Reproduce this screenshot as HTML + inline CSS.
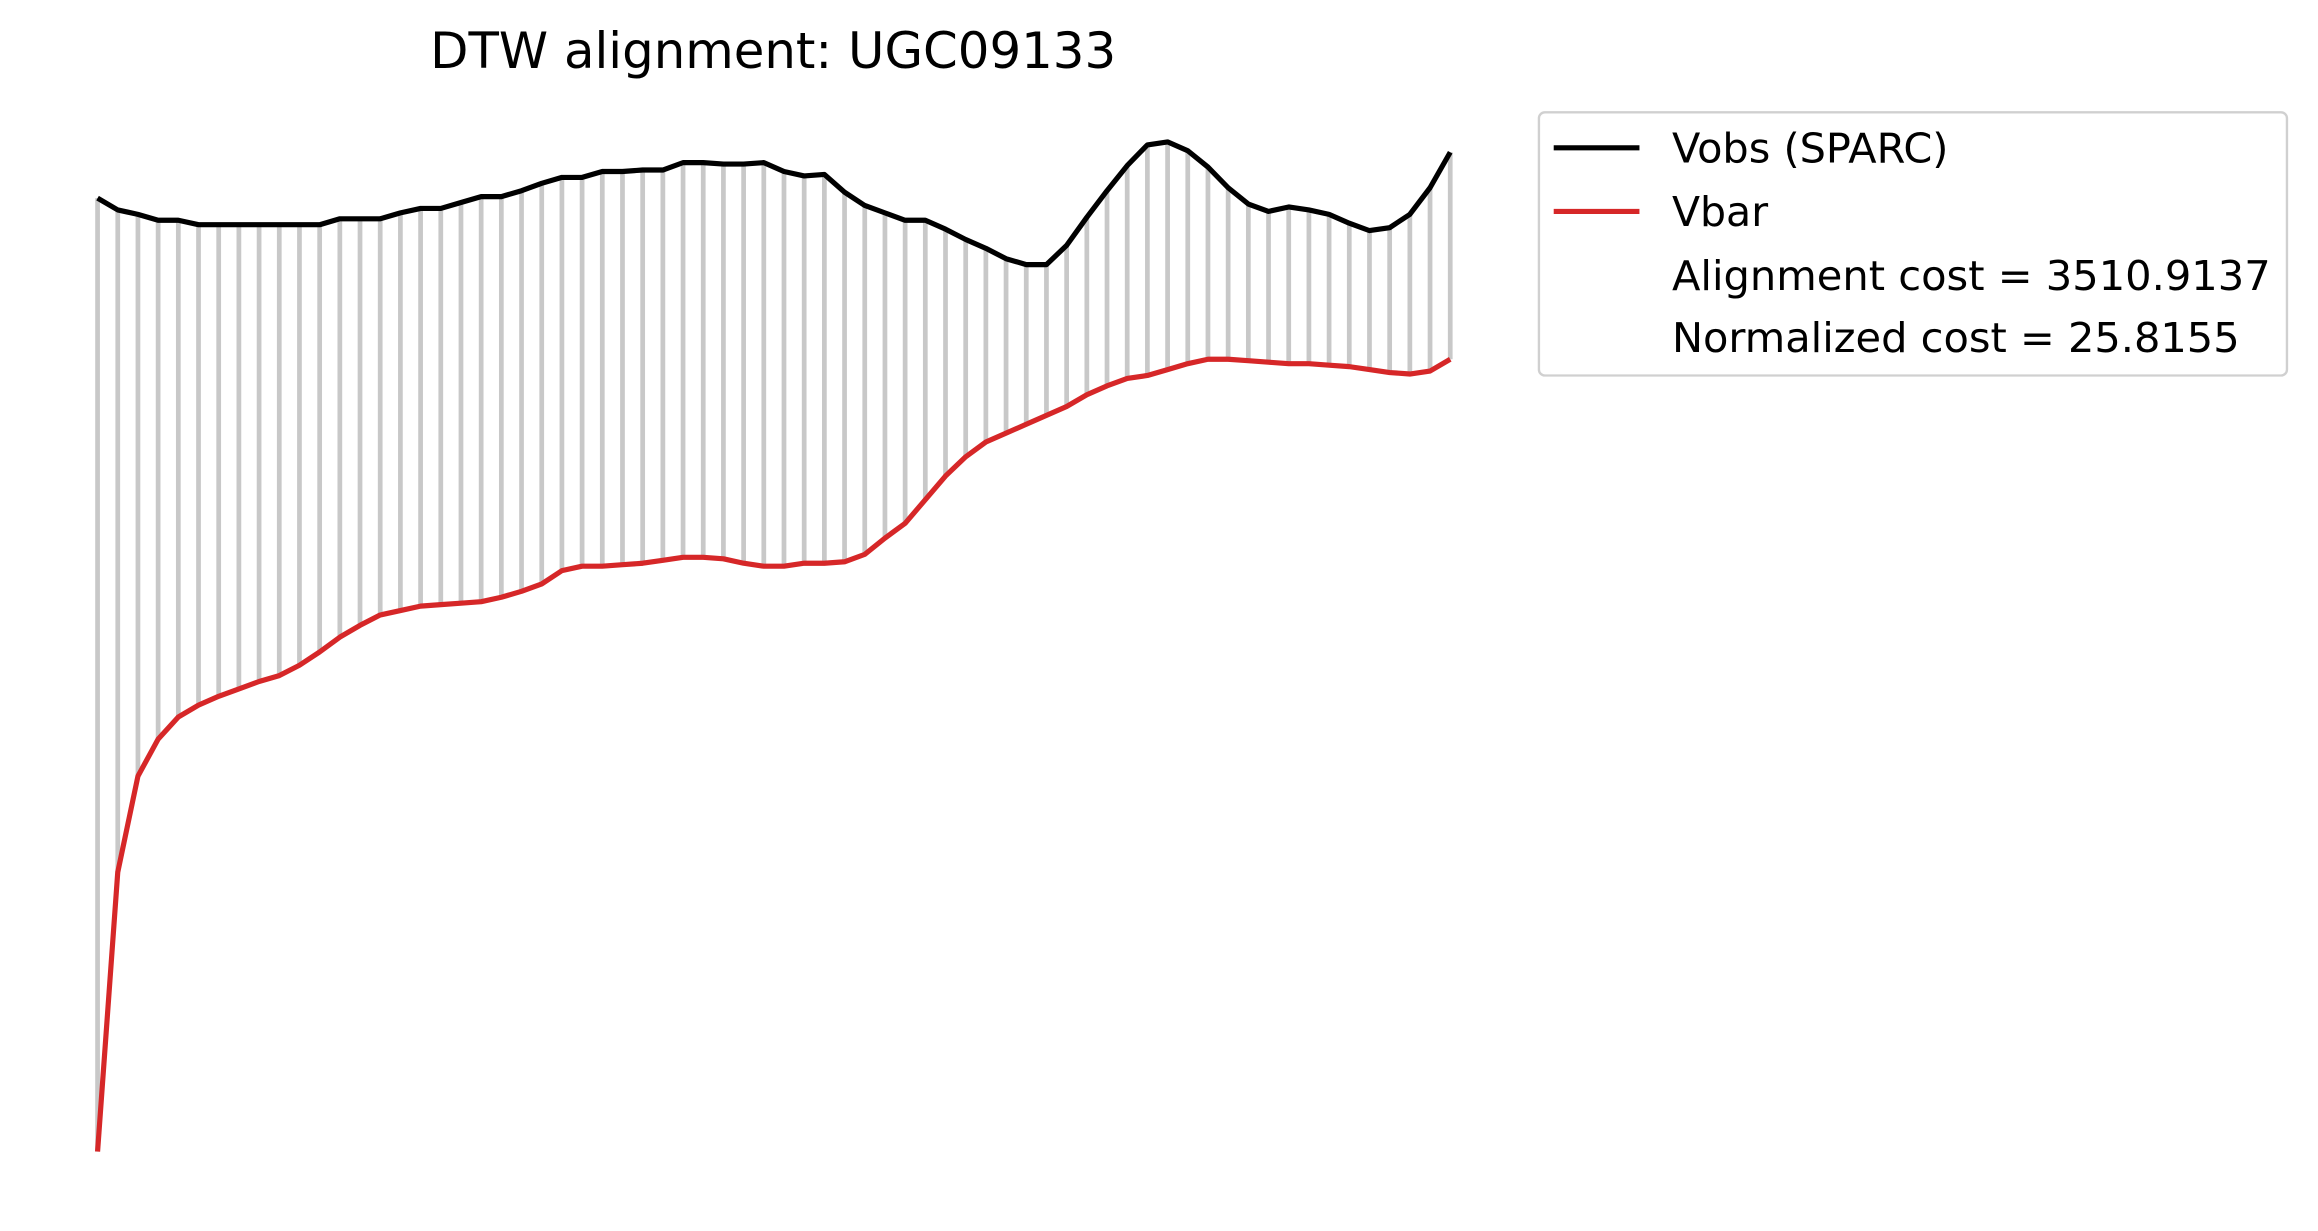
<!DOCTYPE html>
<html><head><meta charset="utf-8"><style>
html,body{margin:0;padding:0;background:#fff;}
svg{display:block;}
text{font-family:"DejaVu Sans","Liberation Sans",sans-serif;fill:#000;}
</style></head><body>
<svg id="chart" width="2318" height="1231" viewBox="0 0 1568 832.7" xmlns="http://www.w3.org/2000/svg">
<rect width="1568" height="833" fill="#fff"/>
<text x="523" y="46" font-size="33.5" text-anchor="middle" textLength="464" lengthAdjust="spacingAndGlyphs">DTW alignment: UGC09133</text>
<g id="links"></g>
<g id="series"></g>
<g>
<rect x="1041" y="76" width="506" height="178" rx="4" fill="#fff" stroke="#d0d0d0" stroke-width="1.6"/>
<line x1="1051" y1="100" x2="1109" y2="100" stroke="#000" stroke-width="3.5"/>
<text x="1131" y="110" font-size="28" textLength="187" lengthAdjust="spacingAndGlyphs">Vobs (SPARC)</text>
<line x1="1051" y1="143" x2="1109" y2="143" stroke="#d62728" stroke-width="3.5"/>
<text x="1131" y="153" font-size="28" textLength="65" lengthAdjust="spacingAndGlyphs">Vbar</text>
<text x="1131" y="196" font-size="28" textLength="405" lengthAdjust="spacingAndGlyphs">Alignment cost = 3510.9137</text>
<text x="1131" y="238" font-size="28" textLength="384" lengthAdjust="spacingAndGlyphs">Normalized cost = 25.8155</text>
</g>
</svg>
<script>
const vobs = [666,658,655,651,651,648,648,648,648,648,648,648,652,652,652,656,659,659,663,667,667,671,676,680,680,684,684,685,685,690,690,689,689,690,684,681,682,670,661,656,651,651,645,638,632,625,621,621,634,653,671,688,702,704,698,687,673,662,657,660,658,655,649,644,646,655,673,697];
const vbar = [21,210,275,300,315,323,329,334,339,343,350,359,369,377,384,387,390,391,392,393,396,400,405,414,417,417,418,419,421,423,423,422,419,417,417,419,419,420,425,436,446,462,478,491,501,507,513,519,525,533,539,544,546,550,554,557,557,556,555,554,554,553,552,550,548,547,549,557];
const NS="http://www.w3.org/2000/svg";
const n = vobs.length;
function xs(i){ return 66 + i*(981-66)/(n-1); }
function ys(v){ return 800 - v; }
const links=document.getElementById('links');
for(let i=0;i<n;i++){
  const l=document.createElementNS(NS,'line');
  l.setAttribute('x1',xs(i));l.setAttribute('x2',xs(i));
  l.setAttribute('y1',ys(vobs[i]));l.setAttribute('y2',ys(vbar[i]));
  l.setAttribute('stroke','#c8c8c8');l.setAttribute('stroke-width','3.2');
  
  
  links.appendChild(l);
}
const g=document.getElementById('series');
function line(arr,color,name){
  const p=document.createElementNS(NS,'polyline');
  p.setAttribute('points',arr.map((v,i)=>xs(i)+','+ys(v)).join(' '));
  p.setAttribute('fill','none');p.setAttribute('stroke',color);p.setAttribute('stroke-width','3.5');
  p.setAttribute('stroke-linejoin','round');
  
  
  g.appendChild(p);
}
line(vbar,'#d62728','vbar-line');
line(vobs,'#000000','vobs-line');
</script>
</body></html>
